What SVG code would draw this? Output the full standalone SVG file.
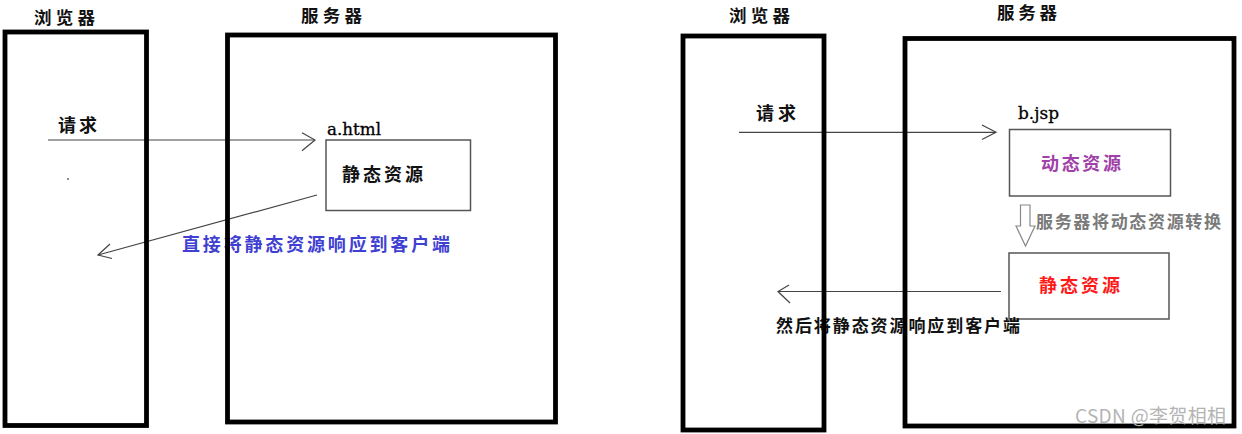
<svg xmlns="http://www.w3.org/2000/svg" width="1242" height="434" viewBox="0 0 1242 434">
<style>
.cn{font-family:"Noto Sans CJK SC","Noto Sans",sans-serif;font-weight:bold}
.lat{font-family:"DejaVu Serif","Liberation Serif",serif}
.big{fill:none;stroke:#000;stroke-width:4.8}
.inner{fill:#fff;stroke:#555;stroke-width:1.5}
.conn{fill:none;stroke:#444;stroke-width:1.2}
</style>
<rect width="1242" height="434" fill="#fff"/>

<g id="static-resource-a">
  <rect class="inner" x="326" y="140" width="144.5" height="70.5"/>
  <text class="lat" x="327" y="135" font-size="16.5" textLength="54" lengthAdjust="spacingAndGlyphs" fill="#000" stroke="#000" stroke-width="0.3">a.html</text>
  <text class="cn" x="342" y="180.5" font-size="18" textLength="81" lengthAdjust="spacing" fill="#111">静态资源</text>
</g>

<g id="dynamic-resource-b">
  <rect class="inner" x="1009.5" y="129.5" width="161" height="66.5"/>
  <text class="lat" x="1018" y="119" font-size="17" textLength="41" lengthAdjust="spacingAndGlyphs" fill="#000" stroke="#000" stroke-width="0.3">b.jsp</text>
  <text class="cn" x="1041" y="169.5" font-size="18" textLength="80" lengthAdjust="spacing" fill="#a040a8">动态资源</text>
</g>

<g id="static-resource-b">
  <rect class="inner" x="1009" y="253" width="160" height="66"/>
  <text class="cn" x="1039" y="291.5" font-size="18" textLength="81" lengthAdjust="spacing" fill="#ff1a1a">静态资源</text>
</g>

<g id="connectors">
  <line class="conn" x1="48" y1="140" x2="315" y2="140"/>
  <polyline class="conn" points="302,132.7 315,140 302,150.7"/>
  <text class="cn" x="58" y="131.5" font-size="18" textLength="39" lengthAdjust="spacing" fill="#111">请求</text>
  <circle cx="68" cy="179" r="0.9" fill="#555"/>

  <line class="conn" x1="317" y1="195" x2="98" y2="255"/>
  <polyline class="conn" points="110,244 98,255 112,258.5"/>
  <text class="cn" x="182" y="250.5" font-size="18" textLength="268" lengthAdjust="spacing" fill="#3f3fd2">直接将静态资源响应到客户端</text>

  <line class="conn" x1="739" y1="132.3" x2="996" y2="132.3"/>
  <polyline class="conn" points="982,125 996,132.3 982,139.5"/>
  <text class="cn" x="756" y="119.5" font-size="18" textLength="40" lengthAdjust="spacing" fill="#111">请求</text>

  <path d="M1020.5,205 L1030,205 L1030,226 L1035,226 L1025.5,246 L1016,226 L1020.5,226 Z" fill="#fff" stroke="#888" stroke-width="1.2"/>
  <text class="cn" x="1036" y="228" font-size="17" textLength="185" lengthAdjust="spacing" fill="#7a7a7a">服务器将动态资源转换</text>

  <line class="conn" x1="1001" y1="291.5" x2="778" y2="291.5"/>
  <polyline class="conn" points="789,285 778,291.5 790,303"/>
  <text class="cn" x="776" y="332" font-size="17" textLength="244" lengthAdjust="spacing" fill="#111">然后将静态资源响应到客户端</text>
</g>

<g id="browser-1">
  <rect class="big" x="5" y="32" width="141.5" height="393.5"/>
  <text class="cn" x="34" y="23.5" font-size="17.5" textLength="61" lengthAdjust="spacing" fill="#111">浏览器</text>
</g>

<g id="server-1">
  <rect class="big" x="227.5" y="35" width="328" height="387"/>
  <text class="cn" x="301" y="21.5" font-size="17.5" textLength="61" lengthAdjust="spacing" fill="#111">服务器</text>
</g>

<g id="browser-2">
  <rect class="big" x="683" y="36" width="141" height="394"/>
  <text class="cn" x="729" y="21.5" font-size="17.5" textLength="61" lengthAdjust="spacing" fill="#111">浏览器</text>
</g>

<g id="server-2">
  <rect class="big" x="905" y="38.5" width="329" height="387.5"/>
  <text class="cn" x="997" y="18.5" font-size="17.5" textLength="60" lengthAdjust="spacing" fill="#111">服务器</text>
</g>

<text x="1075" y="422.5" font-family="'Noto Sans CJK SC','Noto Sans',sans-serif" font-size="19" textLength="151" lengthAdjust="spacing" fill="#b4b4b4">CSDN @李贺相相</text>
</svg>
